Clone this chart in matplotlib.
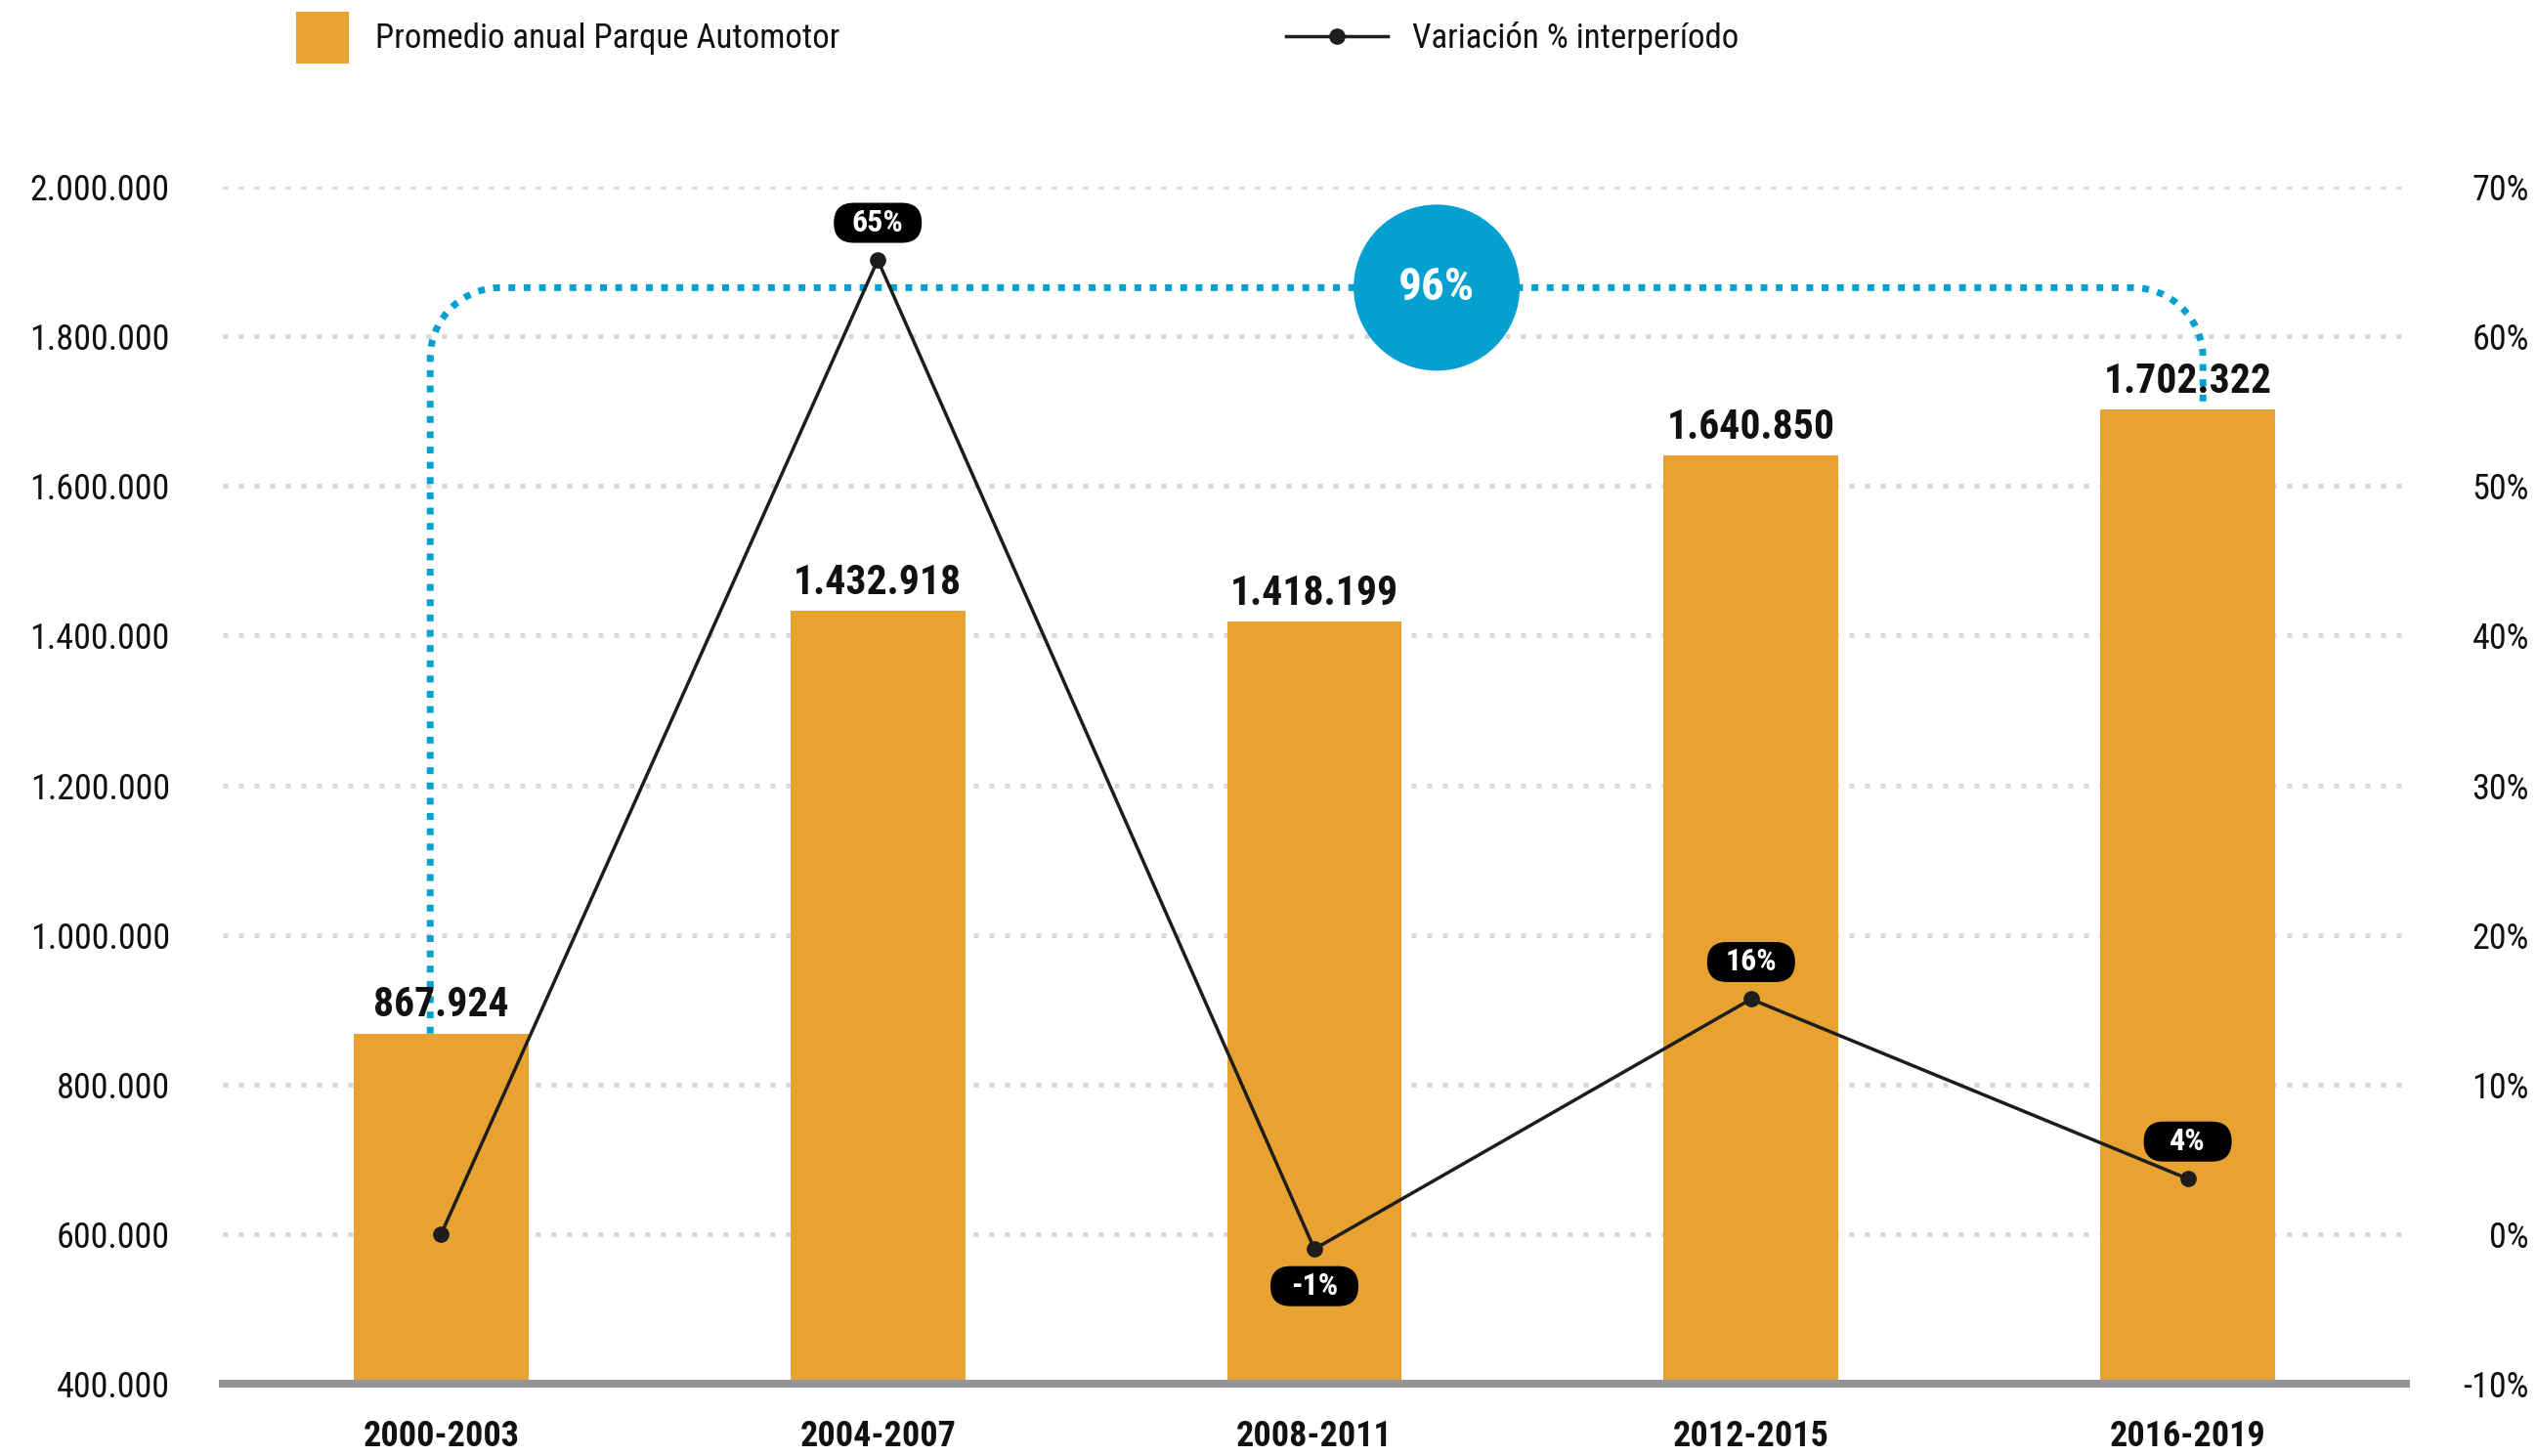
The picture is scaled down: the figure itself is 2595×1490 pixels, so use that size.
import matplotlib
matplotlib.use("Agg")
import matplotlib.pyplot as plt
from matplotlib import font_manager as fm
from matplotlib import transforms as mt
from matplotlib.patches import Rectangle, FancyBboxPatch, Circle
from matplotlib.lines import Line2D
import numpy as np

# ---------------- data ----------------
periods = ["2000-2003", "2004-2007", "2008-2011", "2012-2015", "2016-2019"]
parque = [867924, 1432918, 1418199, 1640850, 1702322]
variacion = [0.0, 65.1, -1.0, 15.7, 3.7]
variacion_labels = ["", "65%", "-1%", "16%", "4%"]
variacion_total = "96%"
left_ticks = [400000, 600000, 800000, 1000000, 1200000, 1400000, 1600000, 1800000, 2000000]
right_ticks = [-10, 0, 10, 20, 30, 40, 50, 60, 70]
legend_bar = "Promedio anual Parque Automotor"
legend_line = "Variación % interperíodo"

# ---------------- styles ----------------
ORANGE = "#E8A232"
BLUE = "#03A0D0"
GRID = "#D9D9D9"
AXIS = "#939598"
INK = "#1D1D1B"

names = {f.name for f in fm.fontManager.ttflist}
if "Roboto Condensed" in names:
    COND = "Roboto Condensed"; cond = True
elif "Liberation Sans Narrow" in names:
    COND = "Liberation Sans Narrow"; cond = True
else:
    COND = "Roboto"; cond = False
REG = "Roboto" if "Roboto" in names else "DejaVu Sans"
LEG = COND if cond else REG

if cond:
    s_val, s_xt, s_pill, s_circ, s_leg, s_yt = 30, 26, 23, 34, 25, 26
else:
    s_val, s_xt, s_pill, s_circ, s_leg, s_yt = 26, 23, 19, 30, 22, 23
YT = COND if cond else REG

W, H = 2595, 1490
fig = plt.figure(figsize=(W / 100, H / 100), dpi=100)
fig.patch.set_facecolor("white")

L, R, T, B = 228, 2462, 191, 1416
ax = fig.add_axes([L / W, 1 - B / H, (R - L) / W, (B - T) / H])
ax.set_xlim(-0.5, 4.5)
ax.set_ylim(left_ticks[0], left_ticks[-1])
ax2 = ax.twinx()
ax2.set_ylim(right_ticks[0], right_ticks[-1])
ax2.set_xlim(-0.5, 4.5)

x = np.arange(len(periods))
ax.bar(x, parque, width=0.4, color=ORANGE, zorder=2)

# grid
ax.set_axisbelow(True)
ax.yaxis.grid(True, linestyle=(0, (1, 2.2)), linewidth=3.6, color=GRID)
ax.xaxis.grid(False)

for a in (ax, ax2):
    for s in a.spines.values():
        s.set_visible(False)
ax.spines["bottom"].set_visible(True)
ax.spines["bottom"].set_linewidth(5.8)
ax.spines["bottom"].set_color(AXIS)

ax.set_yticks(left_ticks)
ax.set_yticklabels([f"{v:,.0f}".replace(",", ".") for v in left_ticks],
                   fontfamily=YT, fontsize=s_yt, color="#111111")
ax.tick_params(axis="y", length=0, pad=39)
ax.set_xticks(x)
ax.set_xticklabels(periods, fontfamily=COND, fontweight="bold", fontsize=s_xt, color="#111111")
ax.tick_params(axis="x", length=0, pad=26)

ax2.set_yticks(right_ticks)
ax2.set_yticklabels([f"{v}%" for v in right_ticks], fontfamily=YT, fontsize=s_yt, color="#111111")
# right-aligned at x ~ 2588 px
ax2.tick_params(axis="y", length=0, pad=(2588 - R) * 0.72)
for t in ax2.get_yticklabels():
    t.set_horizontalalignment("right")

# value labels on bars
for xi, v in zip(x, parque):
    ax2.annotate(f"{v:,.0f}".replace(",", "."), xy=(xi, v), xycoords=ax.transData,
                 xytext=(0, 12.5), textcoords="offset points", ha="center", va="baseline",
                 fontfamily=COND, fontweight="bold", fontsize=s_val, color="#111111", zorder=8)

# blue bracket (from first bar top to last bar top)
fig.canvas.draw()
y_br = 1865000
r = 72.0
td = ax.transData
X0, Yb1 = td.transform((x[0] - 0.025, parque[0]))
X1, Yb5 = td.transform((x[-1] + 0.035, parque[-1]))
_, Yt = td.transform((0, y_br))
pts = [(X0, Yb1), (X0, Yt - r)]
for a_ in np.linspace(np.pi, np.pi / 2, 20):
    pts.append((X0 + r + r * np.cos(a_), Yt - r + r * np.sin(a_)))
pts.append((X1 - r, Yt))
for a_ in np.linspace(np.pi / 2, 0, 20):
    pts.append((X1 - r + r * np.cos(a_), Yt - r + r * np.sin(a_)))
pts.append((X1, Yb5 + 6))
pts = td.inverted().transform(np.array(pts))
ax2.plot(pts[:, 0], pts[:, 1], transform=ax.transData, color=BLUE, lw=5,
         linestyle=(0, (1, 1.25)), zorder=4, clip_on=False, solid_capstyle="butt")

# black variation line
ax2.plot(x, variacion, color=INK, lw=2.5, marker="o", ms=11, zorder=5, clip_on=False)

# pills
for xi, v, lab in zip(x, variacion, variacion_labels):
    if not lab:
        continue
    dy = -0.38 if v < 0 else 0.38
    w, h = 0.90, 0.41
    trans = fig.dpi_scale_trans + mt.ScaledTranslation(xi, v, ax2.transData)
    p = FancyBboxPatch((-w / 2, dy - h / 2), w, h,
                       boxstyle=f"round,pad=0,rounding_size={h / 2}",
                       transform=trans, fc="black", ec="none", zorder=9, clip_on=False)
    ax2.add_patch(p)
    ax2.text(0, dy, lab, transform=trans, ha="center", va="center", color="white",
             fontfamily=COND, fontweight="bold", fontsize=s_pill, zorder=10, clip_on=False)

# circle with total variation
ctrans = fig.dpi_scale_trans + mt.ScaledTranslation(2.28, y_br, ax.transData)
ax2.add_patch(Circle((0, 0), 0.85, transform=ctrans, fc=BLUE, ec="none", zorder=11, clip_on=False))
ax2.text(0, 0, variacion_total, transform=ctrans, ha="center", va="center", color="white",
         fontfamily=COND, fontweight="bold", fontsize=s_circ, zorder=12, clip_on=False)

# legend (manual, figure pixel layout)
def fx(px):
    return px / W

def fy(py):
    return 1 - py / H

fig.add_artist(Rectangle((fx(303), fy(65)), 54 / W, 53 / H, transform=fig.transFigure,
                         fc=ORANGE, ec="none"))
fig.text(fx(384), fy(39), legend_bar, fontfamily=LEG, fontsize=s_leg, color="#111111",
         ha="left", va="center")
fig.add_artist(Line2D([fx(1316), fx(1420)], [fy(37), fy(37)], transform=fig.transFigure,
                      color=INK, lw=2.5))
fig.add_artist(Line2D([fx(1368)], [fy(37)], transform=fig.transFigure, color=INK,
                      marker="o", ms=11, lw=0))
fig.text(fx(1445), fy(39), legend_line, fontfamily=LEG, fontsize=s_leg, color="#111111",
         ha="left", va="center")

fig.savefig("out.png", dpi=100, facecolor="white")
